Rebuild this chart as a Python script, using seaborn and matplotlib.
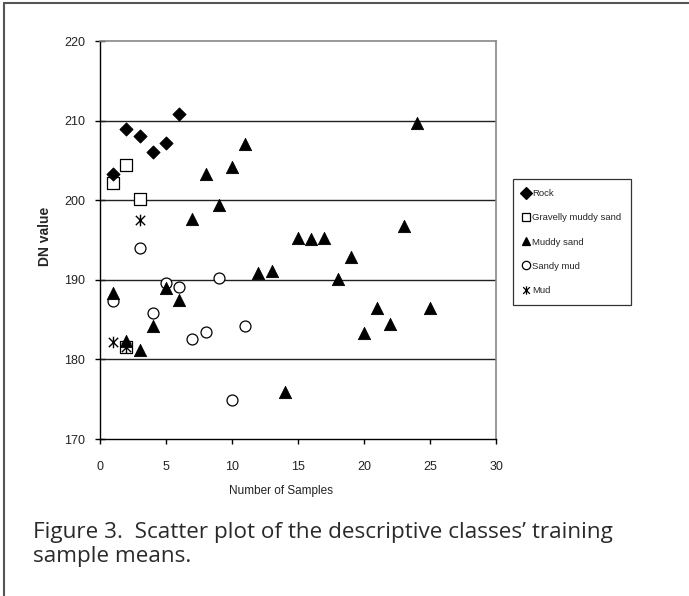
import numpy as np
import pandas as pd
import matplotlib
matplotlib.use('Agg')
import matplotlib.pyplot as plt
import seaborn as sns
from matplotlib.lines import Line2D
from matplotlib.path import Path

# values
rock_n = [1, 2, 3, 4, 5, 6]
rock_dn = [203.3, 208.9, 208.1, 206.1, 207.2, 210.8]

gravelly_n = [1, 2, 3, 2]
gravelly_dn = [202.2, 204.4, 200.2, 181.6]

muddy_sand_n = list(range(1, 26))
muddy_sand_dn = [188.3, 182.3, 181.2, 184.2, 189.0, 187.5, 197.6, 203.3, 199.4,
                 204.2, 207.0, 190.8, 191.1, 175.9, 195.2, 195.1, 195.3, 190.1,
                 192.9, 183.3, 186.5, 184.5, 196.8, 209.7, 186.4]

sandy_mud_n = list(range(1, 12))
sandy_mud_dn = [187.3, 181.6, 194.0, 185.8, 189.6, 189.1, 182.6, 183.4, 190.2,
                174.9, 184.2]

mud_n = [1, 2, 3]
mud_dn = [182.2, 181.6, 197.5]

class_names = ['Rock', 'Gravelly muddy sand', 'Muddy sand', 'Sandy mud', 'Mud']

frames = []
for name, n, dn in zip(class_names,
                       [rock_n, gravelly_n, muddy_sand_n, sandy_mud_n, mud_n],
                       [rock_dn, gravelly_dn, muddy_sand_dn, sandy_mud_dn, mud_dn]):
    frames.append(pd.DataFrame({'n': n, 'dn': dn, 'cls': name}))
df = pd.concat(frames, ignore_index=True)

sns.set_style('white')
plt.rcParams['font.family'] = ['Liberation Sans', 'DejaVu Sans']

# excel style star: an X with a vertical stroke through it
star = Path([(-1, -1), (1, 1), (-1, 1), (1, -1), (0, -1.25), (0, 1.25)],
            [Path.MOVETO, Path.LINETO, Path.MOVETO, Path.LINETO,
             Path.MOVETO, Path.LINETO])

fig = plt.figure(figsize=(6.89, 5.96), dpi=100)
ax = fig.add_axes([100 / 689, 1 - 439 / 596, 396 / 689, 398 / 596])

# marker style per class: (marker, size, face, edge, lw)
styles = {
    'Rock': ('D', 45, 'black', 'black', 0.6),
    'Gravelly muddy sand': ('s', 72, 'white', 'black', 0.9),
    'Muddy sand': ('^', 78, 'black', 'black', 0.6),
    'Sandy mud': ('o', 62, 'white', 'black', 0.9),
    'Mud': (star, 70, 'black', 'black', 1.0),
}

draw_order = ['Sandy mud', 'Gravelly muddy sand', 'Muddy sand', 'Mud', 'Rock']
for name in draw_order:
    m, s, fc, ec, lw = styles[name]
    sub = df[df['cls'] == name]
    sns.scatterplot(data=sub, x='n', y='dn', ax=ax, marker=m, s=s,
                    facecolor=fc, edgecolor=ec, linewidth=lw, zorder=3,
                    legend=False)

ax.set_xlim(0, 30)
ax.set_ylim(170, 220)
ax.set_xticks(np.arange(0, 31, 5))
ax.set_yticks(np.arange(170, 221, 10))

for v in [180, 190, 200, 210]:
    ax.axhline(v, color='#222222', lw=1.0, zorder=1)

for side in ['top', 'right']:
    ax.spines[side].set_color('#888888')
    ax.spines[side].set_linewidth(1.2)
for side in ['left', 'bottom']:
    ax.spines[side].set_color('black')
    ax.spines[side].set_linewidth(1.0)

ax.tick_params(axis='y', direction='inout', length=7, width=1, pad=7,
               labelsize=9, left=True, colors='black')
ax.tick_params(axis='x', direction='out', length=3.5, width=1, pad=12,
               labelsize=9, bottom=True, colors='black')
for lab in ax.get_xticklabels() + ax.get_yticklabels():
    lab.set_color('#222222')

ax.set_xlabel('')
ax.set_ylabel('DN value', fontsize=10, fontweight='bold')
ax.yaxis.set_label_coords(-0.14, 0.51)
ax.yaxis.label.set_va('center')

fig.text(281 / 689, 1 - 491 / 596, 'Number of Samples', fontsize=8.5,
         ha='center', va='center', color='#222222')

# legend
handles = []
for name in class_names:
    m, s, fc, ec, lw = styles[name]
    handles.append(Line2D([], [], linestyle='none', marker=m,
                          markersize=6,
                          markerfacecolor=fc, markeredgecolor=ec,
                          markeredgewidth=0.9))
leg = fig.legend(handles, class_names, loc='upper left',
                 bbox_to_anchor=(513 / 689, 1 - 179 / 596), fontsize=6.8,
                 frameon=True, fancybox=False, edgecolor='black',
                 handlelength=0.6, handletextpad=0.3, labelspacing=1.6,
                 borderpad=1.1, borderaxespad=0)
leg.get_frame().set_linewidth(0.9)

# caption, two lines
fig.text(33 / 689, 1 - 538 / 596,
         'Figure 3.  Scatter plot of the descriptive classes\u2019 training',
         fontsize=16.2, ha='left', va='baseline', color='#2a2a2a',
         family='Open Sans')
fig.text(33 / 689, 1 - 562 / 596, 'sample means.',
         fontsize=16.2, ha='left', va='baseline', color='#2a2a2a',
         family='Open Sans')

# outer frame (top and left edges visible)
fig.add_artist(Line2D([4 / 689, 4 / 689], [0, 1 - 3 / 596], color='#555555',
                      lw=1.5, transform=fig.transFigure))
fig.add_artist(Line2D([4 / 689, 1], [1 - 3 / 596, 1 - 3 / 596], color='#555555',
                      lw=1.5, transform=fig.transFigure))

fig.savefig('out.png', dpi=100)
